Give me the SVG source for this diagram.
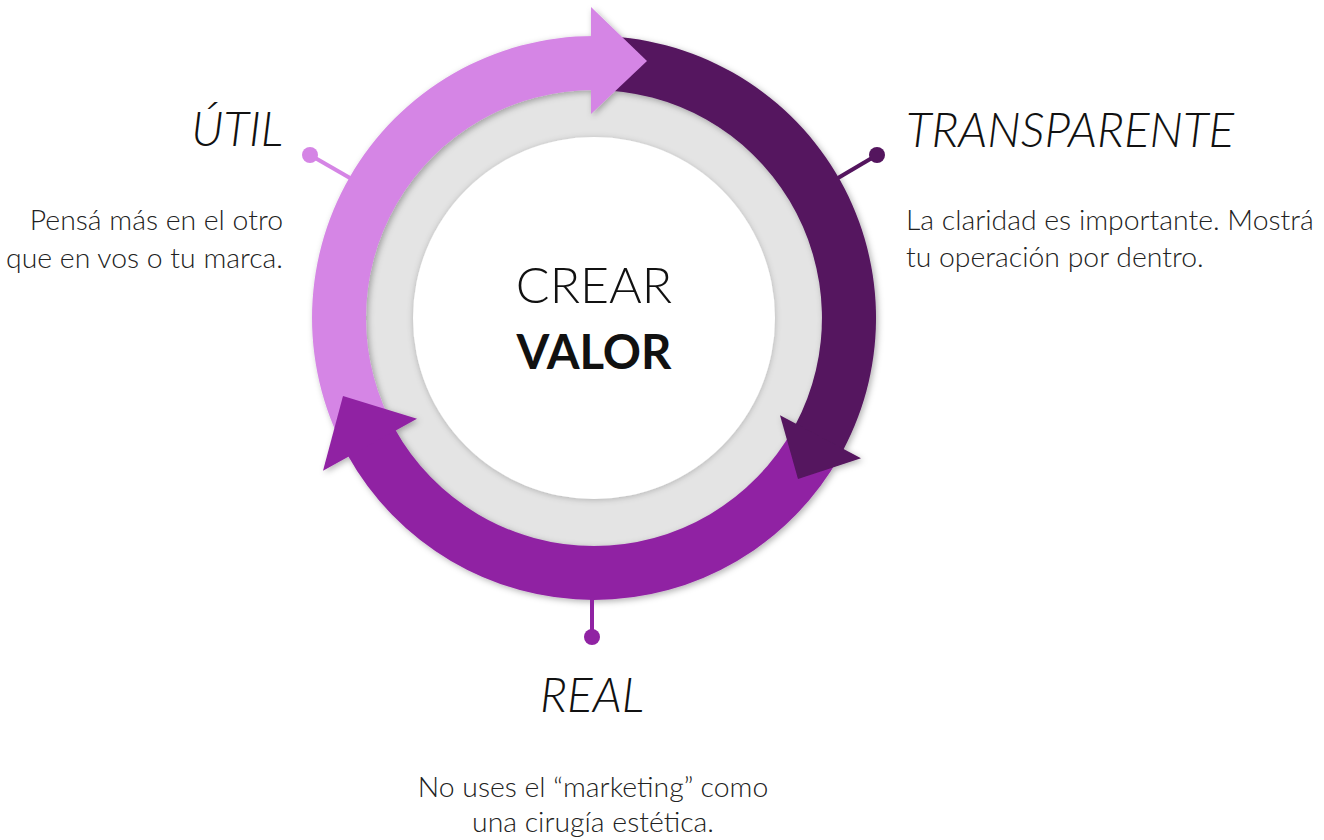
<svg xmlns="http://www.w3.org/2000/svg" width="1324" height="840" viewBox="0 0 1324 840">
<defs>
<filter id="sh" x="-20%" y="-20%" width="140%" height="140%">
<feDropShadow dx="2" dy="2" stdDeviation="3" flood-color="#000" flood-opacity="0.3"/>
</filter>
<filter id="shw" x="-20%" y="-20%" width="140%" height="140%">
<feDropShadow dx="0" dy="1" stdDeviation="3" flood-color="#000" flood-opacity="0.22"/>
</filter>
<style>
.title{font-family:Lato,"Liberation Sans",sans-serif;font-weight:300;font-style:italic;font-size:47.7px;fill:#111;}
.body{font-family:Lato,"Liberation Sans",sans-serif;font-weight:300;font-size:28.4px;fill:#222;}
.light{fill:#D585E5;}
.dark{fill:#54155E;}
.purple{fill:#9023A3;}
.lead{stroke-width:4;fill:none;}
</style>
</defs>
<rect width="1324" height="840" fill="#fff"/>

<g id="ring">
<circle cx="594" cy="318" r="232" fill="#E4E4E4"/>
<circle cx="594" cy="318" r="181" fill="#fff" filter="url(#shw)"/>
</g>

<g id="cycle" filter="url(#sh)">
<path class="light" d="M349.8 459 A282 282 0 0 1 594 36 L594 90 A228 228 0 0 0 396.5 432 Z"/>
<path class="dark" d="M594 36 A282 282 0 0 1 843 450.4 L795.3 425 A228 228 0 0 0 594 90 Z"/>
<path class="purple" d="M840.6 454.7 A282 282 0 0 1 347.4 454.7 L394.6 428.5 A228 228 0 0 0 793.4 428.5 Z"/>
<polygon class="light" points="591,7 647,61 591,114"/>
<polygon class="dark" points="780,415.2 861,458.2 798,479"/>
<polygon class="purple" points="417,418.8 343,396 323,470.8"/>
</g>

<g id="center">
<text x="594" y="303" text-anchor="middle" style="font-family:Lato,'Liberation Sans',sans-serif;font-weight:300;font-size:50px;fill:#111">CREAR</text>
<text x="594" y="369" text-anchor="middle" style="font-family:Lato,'Liberation Sans',sans-serif;font-weight:700;font-size:47.3px;fill:#111">VALOR</text>
</g>

<g id="connectors">
<line class="lead" x1="310" y1="155" x2="350" y2="178" stroke="#D585E5"/>
<circle cx="310" cy="155" r="8" class="light"/>
<line class="lead" x1="877" y1="155" x2="838" y2="178" stroke="#54155E"/>
<circle cx="877" cy="155" r="8" class="dark"/>
<line class="lead" x1="592" y1="598" x2="592" y2="637" stroke="#9023A3"/>
<circle cx="592" cy="637" r="8" class="purple"/>
</g>

<g id="node-util">
<text class="title" x="283" y="146" text-anchor="end">ÚTIL</text>
<text class="body" x="283" y="230" text-anchor="end">Pensá más en el otro</text>
<text class="body" x="283" y="268" text-anchor="end">que en vos o tu marca.</text>
</g>

<g id="node-transparente">
<text class="title" x="906" y="147">TRANSPARENTE</text>
<text class="body" x="906" y="230">La claridad es importante. Mostrá</text>
<text class="body" x="906" y="267">tu operación por dentro.</text>
</g>

<g id="node-real">
<text class="title" x="592" y="712" text-anchor="middle">REAL</text>
<text class="body" x="593" y="797" text-anchor="middle">No uses el “marketing” como</text>
<text class="body" x="593" y="832" text-anchor="middle">una cirugía estética.</text>
</g>
</svg>
